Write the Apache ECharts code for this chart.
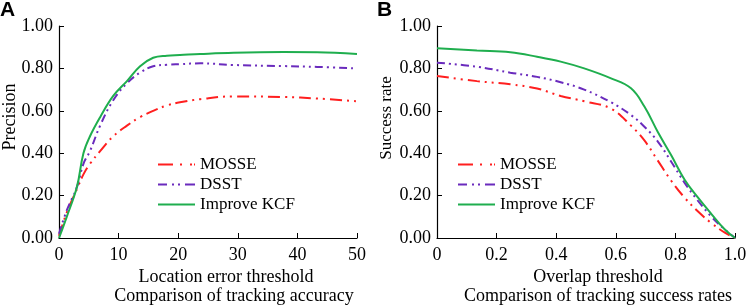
<!DOCTYPE html>
<html>
<head>
<meta charset="utf-8">
<script src="https://cdn.jsdelivr.net/npm/echarts@6/dist/echarts.min.js"></script>
<style>
    html, body { margin: 0; padding: 0; background: #fff; }
    #main { width: 754px; height: 308px; }
</style>
</head>
<body>
<div id="main"></div>
<script>
// panel A: precision vs location error threshold
const precX = [0, 1.3, 3, 4.1, 5.2, 6.9, 9.1, 11.4, 13.6, 15.8, 18.1, 20.3, 23.7, 29.3, 37.7, 43.3, 50];
const precMosse = [0.01, 0.12, 0.23, 0.30, 0.35, 0.41, 0.48, 0.53, 0.57, 0.60, 0.625, 0.64, 0.655, 0.668, 0.665, 0.658, 0.645];
const precDsst = [0.02, 0.13, 0.24, 0.35, 0.41, 0.53, 0.65, 0.73, 0.78, 0.81, 0.817, 0.82, 0.824, 0.816, 0.811, 0.807, 0.80];
const precKcf = [0, 0.10, 0.24, 0.40, 0.48, 0.57, 0.67, 0.74, 0.81, 0.85, 0.86, 0.863, 0.868, 0.874, 0.877, 0.876, 0.868];

// panel B: success rate vs overlap threshold
const succX = [0, 0.134, 0.246, 0.336, 0.415, 0.494, 0.584, 0.651, 0.696, 0.741, 0.786, 0.831, 0.876, 0.921, 0.966, 1.0];
const succMosse = [0.764, 0.74, 0.725, 0.705, 0.67, 0.645, 0.61, 0.53, 0.46, 0.365, 0.27, 0.19, 0.125, 0.07, 0.025, 0];
const succDsst = [0.827, 0.808, 0.78, 0.76, 0.735, 0.70, 0.64, 0.58, 0.525, 0.455, 0.36, 0.26, 0.175, 0.10, 0.04, 0];
const succKcf = [0.895, 0.884, 0.876, 0.855, 0.832, 0.80, 0.753, 0.706, 0.62, 0.50, 0.39, 0.275, 0.19, 0.113, 0.04, 0];

const seriesNames = ['MOSSE', 'DSST', 'Improve KCF'];
const succTicks = ['0', '0.2', '0.4', '0.6', '0.8', '1.0'];

const serif = 'Liberation Serif';
const styles = [
    { color: '#ff1f1f', width: 2, type: [12, 5, 2, 5, 2, 5] },
    { color: '#6a2bbd', width: 2, type: [8, 4, 2, 4, 2, 4] },
    { color: '#1fae4e', width: 2, type: 'solid' },
];
// legend samples, 37 x 2 boxes
const legendIcons = [
    'path://M0,0h15v2h-15z M22,0h2v2h-2z M32,0h2v2h-2z M36,0h1v2h-1z',
    'path://M0,0h9v2h-9z M14,0h2v2h-2z M20,0h2v2h-2z M27,0h10v2h-10z',
    'path://M0,0h37v2h-37z',
];

function pairs(xs, ys) {
    return xs.map((x, i) => [x, ys[i]]);
}

function makeAxes(gridIndex, max, fmt) {
    let x = {
        type: 'value', gridIndex: gridIndex, min: 0, max: max, interval: max / 5,
        axisLine: { lineStyle: { color: '#000', width: 1.2 } },
        axisTick: { inside: true, length: 5, lineStyle: { color: '#000' } },
        axisLabel: { color: '#000', fontFamily: serif, fontSize: 18, margin: 8, formatter: fmt, showMaxLabel: true },
        splitLine: { show: false },
    };
    let y = {
        type: 'value', gridIndex: gridIndex, min: 0, max: 1, interval: 0.2,
        axisLine: { show: true, lineStyle: { color: '#000', width: 1.2 } },
        axisTick: { show: true, inside: true, length: 5, lineStyle: { color: '#000' } },
        axisLabel: { color: '#000', fontFamily: serif, fontSize: 18, margin: 6, formatter: v => v.toFixed(2) },
        splitLine: { show: false },
    };
    return [x, y];
}

const axA = makeAxes(0, 50, v => String(v));
const axB = makeAxes(1, 1, v => succTicks[Math.round(v * 5)]);

let series = [];
const setA = [precMosse, precDsst, precKcf];
const setB = [succMosse, succDsst, succKcf];
for (let i = 0; i < 3; i++) {
    series.push({
        name: seriesNames[i], type: 'line', xAxisIndex: 0, yAxisIndex: 0,
        data: pairs(precX, setA[i]), smooth: 0.4, showSymbol: false, symbol: 'none',
        lineStyle: styles[i], itemStyle: { color: styles[i].color },
    });
}
for (let i = 0; i < 3; i++) {
    series.push({
        name: seriesNames[i], type: 'line', xAxisIndex: 1, yAxisIndex: 1,
        data: pairs(succX, setB[i]), smooth: 0.4, showSymbol: false, symbol: 'none',
        lineStyle: styles[i], itemStyle: { color: styles[i].color },
    });
}

function legendAt(left) {
    return {
        orient: 'vertical', left: left, top: 156, padding: 0, itemWidth: 37, itemHeight: 2, itemGap: 3,
        selectedMode: false,
        data: seriesNames.map((n, i) => ({ name: n, icon: legendIcons[i] })),
        textStyle: { fontFamily: serif, fontSize: 17, color: '#000' },
    };
}

function txt(x, y, s, size, rot) {
    return {
        type: 'text', x: x, y: y, rotation: rot || 0,
        style: { text: s, font: size + 'px "Liberation Serif"', fill: '#000', align: 'center', verticalAlign: 'middle', textAlign: 'center', textVerticalAlign: 'middle' },
    };
}

let chart = echarts.init(document.getElementById('main'));
chart.setOption({
    animation: false,
    grid: [
        { left: 59, width: 298, top: 26, height: 212 },
        { left: 437, width: 298, top: 26, height: 212 },
    ],
    xAxis: [axA[0], axB[0]],
    yAxis: [axA[1], axB[1]],
    legend: [legendAt(158), legendAt(458)],
    series: series,
    graphic: [
        { type: 'text', x: 0, y: 0, style: { text: 'A', font: 'bold 21px "Liberation Sans"', fill: '#000' } },
        { type: 'text', x: 377, y: 0, style: { text: 'B', font: 'bold 21px "Liberation Sans"', fill: '#000' } },
        txt(226, 277, 'Location error threshold', 18),
        txt(234, 296, 'Comparison of tracking accuracy', 18),
        txt(598, 277, 'Overlap threshold', 18),
        txt(598, 296, 'Comparison of tracking success rates', 18),
        txt(10, 117, 'Precision', 18, Math.PI / 2),
        txt(387, 118, 'Success rate', 17, Math.PI / 2),
    ],
});
</script>
</body>
</html>
